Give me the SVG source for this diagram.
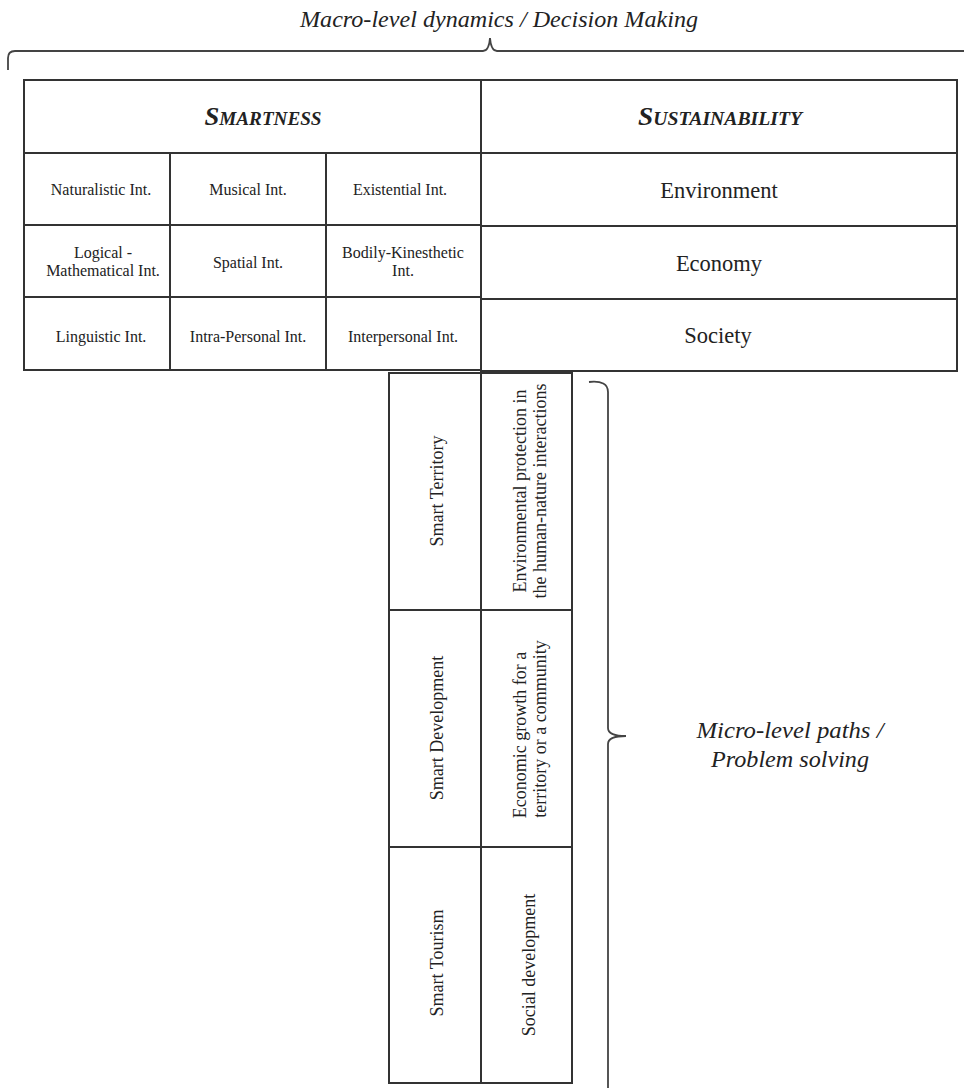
<svg xmlns="http://www.w3.org/2000/svg" width="964" height="1088" viewBox="0 0 964 1088">
<style>
.cell{fill:#fff;stroke:#333;stroke-width:2}
.brace{fill:none;stroke:#444;stroke-width:1.8}
text{font-family:"Liberation Serif","Times New Roman",serif;fill:#222}
.sm{font-size:16px;text-anchor:middle}
.md{font-size:22.5px;text-anchor:middle}
.rot{font-size:18px;text-anchor:middle}
.hd{font-size:25px;font-weight:bold;font-style:italic;font-variant:small-caps;text-anchor:middle}
.it{font-size:24px;font-style:italic;text-anchor:middle}
</style>
<rect width="964" height="1088" fill="#fff"/>
<g id="macro-label">
<text class="it" x="499" y="27" textLength="398" lengthAdjust="spacingAndGlyphs">Macro-level dynamics / Decision Making</text>
</g>
<g id="connectors">
<path class="brace" d="M8,70 L8,58 Q8,51 15,51 L483,51 Q489,51 490,38 Q491,51 497,51 L964,51"/>
<path class="brace" d="M589,382 Q608,380 608,392 L608,728 Q608,736 626,736 Q608,736 608,744 L608,1090"/>
</g>
<g id="smartness-header">
<rect class="cell" x="24" y="80" width="457" height="73"/>
<text class="hd" x="263" y="125" textLength="117" lengthAdjust="spacingAndGlyphs">Smartness</text>
</g>
<g id="sustainability-header">
<rect class="cell" x="481" y="80" width="476" height="73"/>
<text class="hd" x="720" y="125" textLength="164" lengthAdjust="spacingAndGlyphs">Sustainability</text>
</g>
<g id="naturalistic">
<rect class="cell" x="24" y="153" width="146" height="72"/>
<text class="sm" x="101" y="195">Naturalistic Int.</text>
</g>
<g id="musical">
<rect class="cell" x="170" y="153" width="156" height="72"/>
<text class="sm" x="248" y="195">Musical Int.</text>
</g>
<g id="existential">
<rect class="cell" x="326" y="153" width="155" height="72"/>
<text class="sm" x="400" y="195">Existential Int.</text>
</g>
<g id="environment">
<rect class="cell" x="481" y="153" width="476" height="73"/>
<text class="md" x="719" y="198">Environment</text>
</g>
<g id="logical">
<rect class="cell" x="24" y="225" width="146" height="72"/>
<text class="sm" x="103" y="258">Logical -</text>
<text class="sm" x="103" y="276">Mathematical Int.</text>
</g>
<g id="spatial">
<rect class="cell" x="170" y="225" width="156" height="72"/>
<text class="sm" x="248" y="268">Spatial Int.</text>
</g>
<g id="bodily">
<rect class="cell" x="326" y="225" width="155" height="72"/>
<text class="sm" x="403" y="258">Bodily-Kinesthetic</text>
<text class="sm" x="403" y="276">Int.</text>
</g>
<g id="economy">
<rect class="cell" x="481" y="226" width="476" height="73"/>
<text class="md" x="719" y="271">Economy</text>
</g>
<g id="linguistic">
<rect class="cell" x="24" y="297" width="146" height="73"/>
<text class="sm" x="101" y="342">Linguistic Int.</text>
</g>
<g id="intrapersonal">
<rect class="cell" x="170" y="297" width="156" height="73"/>
<text class="sm" x="248" y="342">Intra-Personal Int.</text>
</g>
<g id="interpersonal">
<rect class="cell" x="326" y="297" width="155" height="73"/>
<text class="sm" x="403" y="342">Interpersonal Int.</text>
</g>
<g id="society">
<rect class="cell" x="481" y="299" width="476" height="72"/>
<text class="md" x="718" y="343">Society</text>
</g>
<g id="smart-territory">
<rect class="cell" x="389" y="373" width="92" height="237"/>
<text class="rot" transform="translate(437,491) rotate(-90)" y="6">Smart Territory</text>
</g>
<g id="env-protection">
<rect class="cell" x="481" y="373" width="91" height="237"/>
<text class="rot" transform="translate(526,491) rotate(-90)">Environmental protection in</text>
<text class="rot" transform="translate(546,491) rotate(-90)">the human-nature interactions</text>
</g>
<g id="smart-development">
<rect class="cell" x="389" y="610" width="92" height="237"/>
<text class="rot" transform="translate(437,728) rotate(-90)" y="6">Smart Development</text>
</g>
<g id="economic-growth">
<rect class="cell" x="481" y="610" width="91" height="237"/>
<text class="rot" transform="translate(526,735) rotate(-90)">Economic growth for a</text>
<text class="rot" transform="translate(546,729) rotate(-90)">territory or a community</text>
</g>
<g id="smart-tourism">
<rect class="cell" x="389" y="847" width="92" height="236"/>
<text class="rot" transform="translate(437,963) rotate(-90)" y="6">Smart Tourism</text>
</g>
<g id="social-development">
<rect class="cell" x="481" y="847" width="91" height="236"/>
<text class="rot" transform="translate(535,965) rotate(-90)">Social development</text>
</g>
<g id="micro-label">
<text class="it" x="790" y="738" textLength="187" lengthAdjust="spacingAndGlyphs">Micro-level paths /</text>
<text class="it" x="790" y="767" textLength="158" lengthAdjust="spacingAndGlyphs">Problem solving</text>
</g>
</svg>
